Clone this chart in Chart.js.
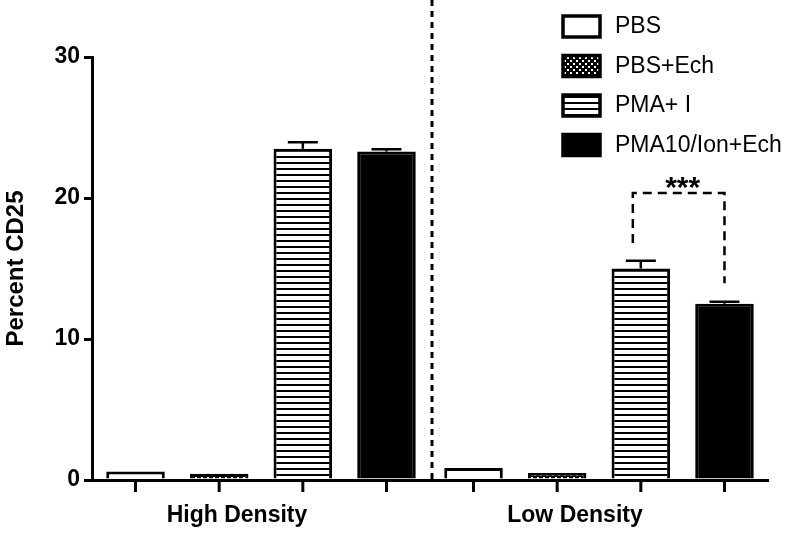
<!DOCTYPE html>
<html lang="en">
<head>
    <meta charset="UTF-8">
    <title>Percent CD25</title>
    <style>
        body { margin: 0; background: #FFFFFF; }
        #chart-container { width: 800px; height: 537px; }
    </style>
    <script src="https://cdn.jsdelivr.net/npm/chart.js"></script>
</head>
<body>
    <div id="chart-container">
        <canvas id="cd25Chart" width="800" height="537"></canvas>
    </div>

    <script>
        // Groups on the x axis
        const groups = ["High Density", "Low Density"];

        // Treatment names (legend order)
        const treatments = ["PBS", "PBS+Ech", "PMA+ I", "PMA10/Ion+Ech"];

        // Mean percent CD25 per treatment, [High, Low]
        const pbs = [0.6, 0.85];
        const pbsEch = [0.45, 0.5];
        const pmaI = [23.5, 15.0];
        const pmaIonEch = [23.3, 12.5];

        // Upper error (SEM) per treatment, [High, Low]; 0 = not visible
        const pbsErr = [0, 0];
        const pbsEchErr = [0, 0];
        const pmaIErr = [0.45, 0.55];
        const pmaIonEchErr = [0.15, 0.15];

        // Y ticks
        const yTicks = [0, 10, 20, 30];

        // Significance bracket between PMA+ I and PMA10/Ion+Ech, Low Density
        const sigLabel = "***";
        const sigTop = 20.35;
        const sigLeftEnd = 16.8;
        const sigRightEnd = 13.95;

        // Fill patterns for the bars
        function stripePattern() {
            const c = document.createElement("canvas");
            c.width = 6; c.height = 6;
            const g = c.getContext("2d");
            g.fillStyle = "#fff"; g.fillRect(0, 0, 6, 6);
            g.fillStyle = "#000"; g.fillRect(0, 0, 6, 2);
            return g.createPattern(c, "repeat");
        }
        function checkerPattern() {
            const c = document.createElement("canvas");
            c.width = 6; c.height = 6;
            const g = c.getContext("2d");
            g.fillStyle = "#000"; g.fillRect(0, 0, 6, 6);
            g.fillStyle = "#fff";
            g.fillRect(0, 0, 2, 2);
            g.fillRect(3, 3, 2, 2);
            return g.createPattern(c, "repeat");
        }

        const fills = ["#FFFFFF", checkerPattern(), stripePattern(), "#000000"];
        const values = [pbs, pbsEch, pmaI, pmaIonEch];
        const errors = [pbsErr, pbsEchErr, pmaIErr, pmaIonEchErr];

        const datasets = treatments.map((name, i) => ({
            label: name,
            data: values[i],
            backgroundColor: fills[i],
            borderColor: "#000",
            borderWidth: 3,
            barPercentage: 0.7,
            categoryPercentage: 0.99
        }));

        // Error bars, x tick marks, divider, bracket and legend
        const extras = {
            id: "extras",
            afterDatasetsDraw(chart) {
                const ctx = chart.ctx;
                const y = chart.scales.y;
                const area = chart.chartArea;
                ctx.save();
                ctx.strokeStyle = "#000";
                ctx.lineWidth = 2.5;

                // error bars (upper only)
                chart.data.datasets.forEach((ds, i) => {
                    chart.getDatasetMeta(i).data.forEach((bar, j) => {
                        if (!errors[i][j]) return;
                        const top = y.getPixelForValue(values[i][j] + errors[i][j]);
                        ctx.beginPath();
                        ctx.moveTo(bar.x, bar.y);
                        ctx.lineTo(bar.x, top);
                        ctx.moveTo(bar.x - 15, top);
                        ctx.lineTo(bar.x + 15, top);
                        ctx.stroke();
                    });
                });

                // tick marks under each bar
                ctx.lineWidth = 3;
                chart.data.datasets.forEach((ds, i) => {
                    chart.getDatasetMeta(i).data.forEach(bar => {
                        ctx.beginPath();
                        ctx.moveTo(bar.x, area.bottom);
                        ctx.lineTo(bar.x, area.bottom + 12);
                        ctx.stroke();
                    });
                });

                // dotted divider between groups
                const xs = chart.scales.x;
                const midX = (xs.getPixelForValue(0) + xs.getPixelForValue(1)) / 2 + 2;
                ctx.setLineDash([6, 5]);
                ctx.beginPath();
                ctx.moveTo(midX, 0);
                ctx.lineTo(midX, area.bottom);
                ctx.stroke();

                // significance bracket
                const left = chart.getDatasetMeta(2).data[1].x - 8;
                const right = chart.getDatasetMeta(3).data[1].x;
                ctx.setLineDash([9, 6]);
                ctx.lineWidth = 2.5;
                ctx.beginPath();
                ctx.moveTo(left, y.getPixelForValue(sigLeftEnd));
                ctx.lineTo(left, y.getPixelForValue(sigTop));
                ctx.lineTo(right, y.getPixelForValue(sigTop));
                ctx.lineTo(right, y.getPixelForValue(sigRightEnd));
                ctx.stroke();
                ctx.setLineDash([]);
                ctx.fillStyle = "#000";
                ctx.font = "bold 30px 'Liberation Sans', Arial";
                ctx.textAlign = "center";
                ctx.textBaseline = "middle";
                ctx.fillText(sigLabel, (left + right) / 2 + 4, y.getPixelForValue(sigTop) - 4);

                // legend
                ctx.font = "23px 'Liberation Sans', Arial";
                ctx.textAlign = "left";
                treatments.forEach((name, i) => {
                    const cy = 26 + i * 39.5;
                    ctx.fillStyle = fills[i];
                    ctx.fillRect(563, cy - 10, 37, 21);
                    ctx.lineWidth = 3.5;
                    ctx.strokeRect(563, cy - 10, 37, 21);
                    ctx.fillStyle = "#000";
                    ctx.fillText(name, 615, cy + 1);
                });
                ctx.restore();
            }
        };

        new Chart(document.getElementById("cd25Chart"), {
            type: "bar",
            data: { labels: groups, datasets: datasets },
            plugins: [extras],
            options: {
                responsive: false,
                animation: false,
                layout: { padding: { top: 57, right: 32, left: 0, bottom: 0 } },
                plugins: { legend: { display: false }, tooltip: { enabled: false } },
                scales: {
                    x: {
                        grid: { display: false },
                        border: { color: "#000", width: 3 },
                        ticks: {
                            color: "#000",
                            padding: 14,
                            labelOffset: -24,
                            font: { family: "'Liberation Sans', Arial", size: 23, weight: "bold" }
                        },
                        afterFit(scale) { scale.height = 57; }
                    },
                    y: {
                        min: 0,
                        max: 30,
                        afterBuildTicks(scale) { scale.ticks = yTicks.map(v => ({ value: v })); },
                        grid: { drawOnChartArea: false, drawTicks: true, tickLength: 8, color: "#000", lineWidth: 3 },
                        border: { color: "#000", width: 3 },
                        ticks: {
                            color: "#000",
                            padding: 4,
                            font: { family: "'Liberation Sans', Arial", size: 23, weight: "bold" }
                        },
                        title: {
                            display: true,
                            text: "Percent CD25",
                            color: "#000",
                            padding: { top: 2, bottom: 10 },
                            font: { family: "'Liberation Sans', Arial", size: 24, weight: "bold" }
                        },
                        afterFit(scale) { scale.width = 92; }
                    }
                }
            }
        });
    </script>
</body>
</html>
